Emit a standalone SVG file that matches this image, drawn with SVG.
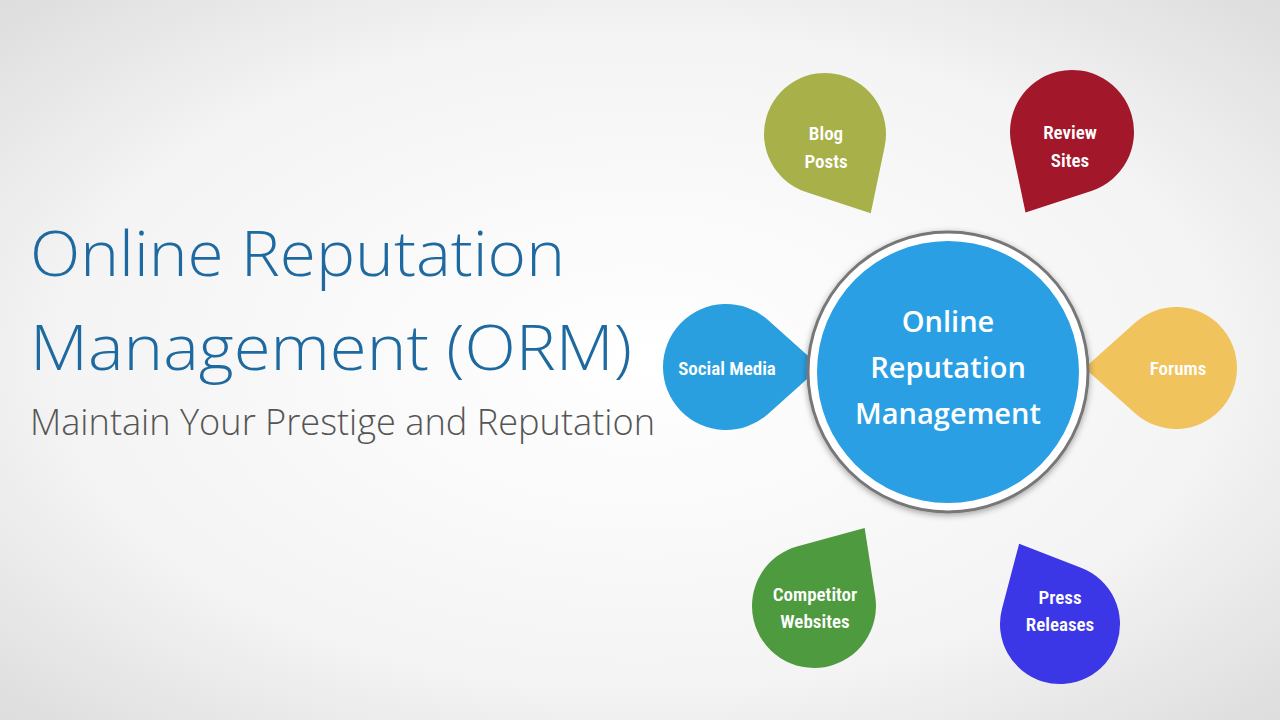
<svg xmlns="http://www.w3.org/2000/svg" xmlns:xlink="http://www.w3.org/1999/xlink" width="1280" height="720" viewBox="0 0 1280 720">
<defs>
<radialGradient id="bg" cx="0.5" cy="0.5" r="0.75">
<stop offset="0" stop-color="#ffffff"/><stop offset="0.6" stop-color="#f4f4f4"/><stop offset="1" stop-color="#d9d9d9"/>
</radialGradient>
<path id="drop" d="M1.5,0 L0.667,0.745 A1 1 0 1 1 0.667,-0.745 Z"/>
<filter id="sh" x="-20%" y="-20%" width="140%" height="140%"><feDropShadow dx="0" dy="2" stdDeviation="3" flood-color="#000" flood-opacity="0.35"/></filter>
</defs>
<style>
.t{font-family:"Open Sans","Liberation Sans",sans-serif;font-weight:300}
.p{font-family:"Liberation Sans Narrow","Roboto Condensed","Open Sans",sans-serif;font-weight:600;fill:#fff;font-size:19px;text-anchor:middle}
.c{font-family:"Open Sans","Liberation Sans",sans-serif;font-weight:600;fill:#fff;font-size:29px;text-anchor:middle}
</style>
<rect width="1280" height="720" fill="url(#bg)"/>
<g id="title">
<text class="t" x="30" y="276" font-size="62" fill="#1e6aa0" textLength="535" lengthAdjust="spacingAndGlyphs">Online Reputation</text>
<text class="t" x="30" y="370" font-size="62" fill="#1e6aa0" textLength="602" lengthAdjust="spacingAndGlyphs">Management (ORM)</text>
<text class="t" x="30" y="435" font-size="37" fill="#555" textLength="625" lengthAdjust="spacingAndGlyphs">Maintain Your Prestige and Reputation</text>
</g>
<g id="blog"><use href="#drop" fill="#a8b04a" transform="translate(825,134) rotate(60) scale(61)"/>
<text class="p" x="826" y="140">Blog</text><text class="p" x="826" y="168">Posts</text></g>
<g id="review"><use href="#drop" fill="#a3172b" transform="translate(1072,132) rotate(120) scale(62)"/>
<text class="p" x="1070" y="139">Review</text><text class="p" x="1070" y="167">Sites</text></g>
<g id="social"><use href="#drop" fill="#2a9fe0" transform="translate(726,367) rotate(0) scale(63)"/>
<text class="p" x="727" y="375">Social Media</text></g>
<g id="forums"><use href="#drop" fill="#f1c35c" transform="translate(1176,368) rotate(180) scale(61)"/>
<text class="p" x="1178" y="375">Forums</text></g>
<g id="competitor"><use href="#drop" fill="#4e9a3f" transform="translate(814,606) rotate(-57) scale(62)"/>
<text class="p" x="815" y="601">Competitor</text><text class="p" x="815" y="628">Websites</text></g>
<g id="press"><use href="#drop" fill="#3b36e6" transform="translate(1060,624) rotate(-117) scale(60)"/>
<text class="p" x="1060" y="604">Press</text><text class="p" x="1060" y="631">Releases</text></g>
<g id="center">
<circle cx="948" cy="372" r="140" fill="#fff" stroke="#777" stroke-width="3" filter="url(#sh)"/>
<circle cx="948" cy="372" r="131" fill="#2a9fe4"/>
<text class="c" x="948" y="332">Online</text>
<text class="c" x="948" y="378">Reputation</text>
<text class="c" x="948" y="424">Management</text>
</g>
<g id="connectors"/>
</svg>
